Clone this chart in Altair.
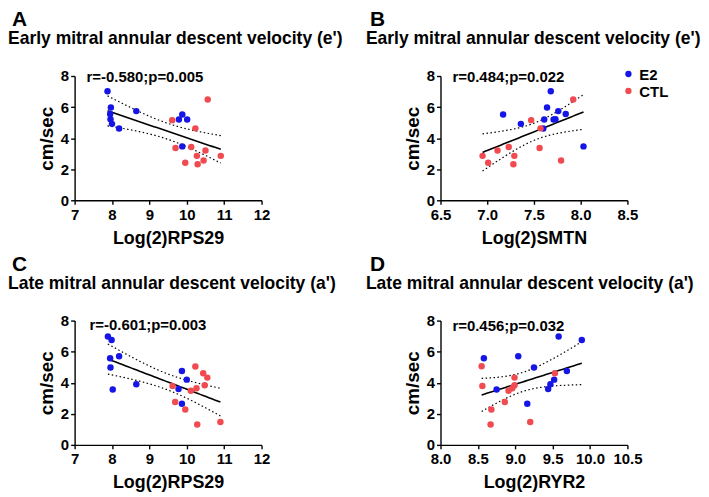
import altair as alt
import pandas as pd
import numpy as np

# ---------------- data ----------------
# Panel A: e' vs Log(2)RPS29
a_e2_x = [7.88, 7.97, 7.95, 7.96, 8.00, 8.19, 8.65, 9.79, 9.88, 10.01, 9.88]
a_e2_y = [7.02, 5.97, 5.55, 5.22, 4.92, 4.62, 5.74, 5.20, 5.52, 5.20, 3.47]
a_ctl_x = [9.61, 9.70, 9.96, 10.12, 10.23, 10.27, 10.29, 10.45, 10.50, 10.56, 10.91]
a_ctl_y = [5.16, 3.36, 2.42, 3.43, 4.63, 2.86, 2.32, 2.56, 3.20, 6.49, 2.86]

# Panel B: e' vs Log(2)SMTN
b_e2_x = [7.17, 7.36, 7.60, 7.61, 7.64, 7.68, 7.71, 7.73, 7.76, 7.84, 8.03]
b_e2_y = [5.52, 4.92, 4.62, 5.20, 5.97, 7.02, 5.20, 5.22, 5.74, 5.55, 3.47]
b_ctl_x = [6.95, 7.01, 7.11, 7.23, 7.29, 7.28, 7.47, 7.56, 7.57, 7.79, 7.92]
b_ctl_y = [2.86, 2.42, 3.20, 3.43, 2.86, 2.32, 5.16, 3.36, 4.63, 2.56, 6.49]

# Panel C: a' vs Log(2)RPS29
c_e2_x = [7.89, 7.99, 7.95, 7.96, 8.02, 8.19, 8.65, 9.78, 9.87, 9.87, 10.00]
c_e2_y = [6.98, 6.75, 5.58, 4.98, 3.56, 5.71, 3.90, 3.60, 4.76, 2.65, 4.20]
c_ctl_x = [9.62, 9.69, 9.96, 10.11, 10.23, 10.26, 10.28, 10.44, 10.48, 10.55, 10.90]
c_ctl_y = [3.79, 2.76, 2.28, 3.49, 5.04, 3.64, 1.31, 4.61, 3.84, 4.33, 1.47]

# Panel D: a' vs Log(2)RYR2
d_e2_x = [8.58, 8.75, 9.04, 9.16, 9.25, 9.44, 9.47, 9.52, 9.58, 9.69, 9.89]
d_e2_y = [5.58, 3.56, 5.71, 2.65, 4.98, 3.60, 3.90, 4.20, 6.98, 4.76, 6.75]
d_ctl_x = [8.55, 8.56, 8.68, 8.67, 8.86, 8.91, 8.96, 8.99, 8.99, 9.20, 9.53]
d_ctl_y = [5.06, 3.79, 2.28, 1.31, 2.76, 3.49, 3.64, 3.84, 4.33, 1.47, 4.61]

groups = ["E2", "CTL"]
ticks_rps = [7, 8, 9, 10, 11, 12]
ticks_smtn = [6.5, 7.0, 7.5, 8.0, 8.5]
ticks_ryr = [8.0, 8.5, 9.0, 9.5, 10.0, 10.5]
y_ticks = [0, 2, 4, 6, 8]

BLUE = "#1515e6"
RED = "#ef4b50"
FONT = "Liberation Sans"
W, H = 188, 125


def fit_band(x, y, npts=40):
    x = np.asarray(x, float)
    y = np.asarray(y, float)
    n = len(x)
    b, a = np.polyfit(x, y, 1)
    xm = x.mean()
    sxx = ((x - xm) ** 2).sum()
    s = np.sqrt(((y - (a + b * x)) ** 2).sum() / (n - 2))
    xs = np.linspace(x.min(), x.max(), npts)
    yh = a + b * xs
    se = s * np.sqrt(1.0 / n + (xs - xm) ** 2 / sxx)
    t = 2.086
    return pd.DataFrame({"x": xs, "fit": yh, "lo": yh - t * se, "hi": yh + t * se})


def label(text, x, y, size, align="left", baseline="alphabetic"):
    return alt.Chart(pd.DataFrame({"t": [text]})).mark_text(
        align=align, baseline=baseline, fontSize=size, fontWeight="bold",
        font=FONT, color="black"
    ).encode(text="t:N", x=alt.value(x), y=alt.value(y))


def panel(e2x, e2y, cx, cy, domain, ticks, fmt, xtitle, rtext, rpos,
          letter, title, tdx, ldx, legend=False):
    df = pd.DataFrame({
        "x": e2x + cx,
        "y": e2y + cy,
        "g": ["E2"] * len(e2x) + ["CTL"] * len(cx),
    })
    band = fit_band(e2x + cx, e2y + cy)
    xs = alt.Scale(domain=domain, nice=False, zero=False)
    ys = alt.Scale(domain=[0, 8], nice=False)
    xax = alt.Axis(values=ticks, format=fmt, title=xtitle, tickCount=len(ticks))
    yax = alt.Axis(values=y_ticks, title="cm/sec", tickCount=5)

    def X(f):
        return alt.X(f, type="quantitative", scale=xs, axis=xax)

    def Y(f):
        return alt.Y(f, type="quantitative", scale=ys, axis=yax)

    pts = alt.Chart(df).mark_circle(size=42, opacity=1).encode(
        x=X("x"), y=Y("y"),
        color=alt.Color("g:N", scale=alt.Scale(domain=groups, range=[BLUE, RED]), legend=None),
    )
    line = alt.Chart(band).mark_line(color="black", strokeWidth=1.6).encode(x=X("x"), y=Y("fit"))
    lo = alt.Chart(band).mark_line(color="black", strokeWidth=1.2, strokeDash=[1.5, 2.5]).encode(
        x=X("x"), y=Y("lo"))
    hi = alt.Chart(band).mark_line(color="black", strokeWidth=1.2, strokeDash=[1.5, 2.5]).encode(
        x=X("x"), y=Y("hi"))

    layers = [lo, hi, line, pts,
              label(rtext, rpos[0], rpos[1], 15),
              label(letter, ldx, -67, 21, baseline="top"),
              label(title, tdx, -32, 17.6)]
    if legend:
        for i, (g, c) in enumerate(zip(groups, [BLUE, RED])):
            yy = -2 + 17 * i
            layers.append(
                alt.Chart(pd.DataFrame({"g": [g]})).mark_circle(size=40, opacity=1, color=c)
                .encode(x=alt.value(189), y=alt.value(yy)))
            layers.append(label(g, 200, yy + 1, 15, baseline="middle"))
    return alt.layer(*layers).properties(width=W, height=H)


e_title = "Early mitral annular descent velocity (e')"
a_title = "Late mitral annular descent velocity (a')"

pA = panel(a_e2_x, a_e2_y, a_ctl_x, a_ctl_y, [7, 12], ticks_rps, "d", "Log(2)RPS29",
           "r=-0.580;p=0.005", (12, 6), "A", e_title, -67, -63)
pB = panel(b_e2_x, b_e2_y, b_ctl_x, b_ctl_y, [6.5, 8.5], ticks_smtn, ".1f", "Log(2)SMTN",
           "r=0.484;p=0.022", (12, 6), "B", e_title, -75, -71, legend=True)
pC = panel(c_e2_x, c_e2_y, c_ctl_x, c_ctl_y, [7, 12], ticks_rps, "d", "Log(2)RPS29",
           "r=-0.601;p=0.003", (15, 9), "C", a_title, -67, -63)
pD = panel(d_e2_x, d_e2_y, d_ctl_x, d_ctl_y, [8.0, 10.5], ticks_ryr, ".1f", "Log(2)RYR2",
           "r=0.456;p=0.032", (12, 10), "D", a_title, -75, -71)

chart = alt.concat(pA, pB, pC, pD, columns=2, spacing={"row": 121, "column": 180},
                   bounds="flush").properties(padding=0).configure_axis(
    grid=False, domainColor="black", tickColor="black", domainWidth=1.4, tickWidth=1.4,
    tickSize=4, labelFont=FONT, labelFontSize=15, labelFontWeight="bold", labelColor="black",
    titleFont=FONT, titleFontSize=18, titleFontWeight="bold", titleColor="black",
    labelOverlap=False, labelFlush=False, labelPadding=2
).configure_axisX(titlePadding=7, labelPadding=3).configure_axisY(
    titlePadding=4, titleFontSize=19).configure_view(stroke=None)

chart.save("out.html", embed_options={"renderer": "svg", "actions": False})
